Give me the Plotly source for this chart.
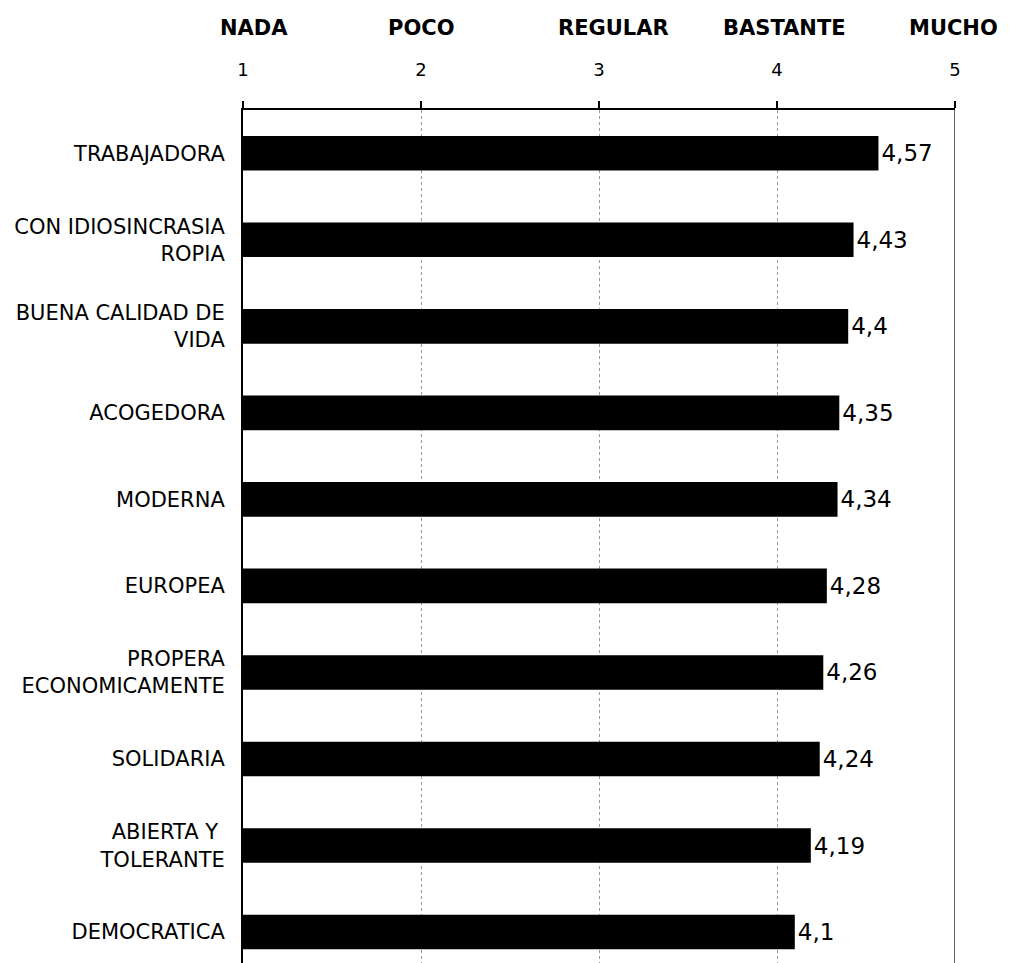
import plotly.graph_objects as go

# Valoración media de cada atributo (escala 1-5)
categories = [
    "TRABAJADORA",
    "CON IDIOSINCRASIA<br>ROPIA",
    "BUENA CALIDAD DE<br>VIDA",
    "ACOGEDORA",
    "MODERNA",
    "EUROPEA",
    "PROPERA<br>ECONOMICAMENTE",
    "SOLIDARIA",
    "ABIERTA Y <br>TOLERANTE",
    "DEMOCRATICA",
]
values = [4.57, 4.43, 4.4, 4.35, 4.34, 4.28, 4.26, 4.24, 4.19, 4.1]

scale_ticks = [1, 2, 3, 4, 5]
scale_words = ["NADA", "POCO", "REGULAR", "BASTANTE", "MUCHO"]
# header word centres, as fraction of the plot width
word_pos = [0.015, 0.25, 0.52, 0.76, 0.998]

FONT = "DejaVu Sans"

labels = [f"{v:g}".replace(".", ",") for v in values]

fig = go.Figure()
# bars start at 1 (left edge of the scale)
fig.add_trace(go.Bar(
    x=[v - 1 for v in values], y=categories, orientation="h",
    base=1, width=0.4,
    marker=dict(color="black", line=dict(width=0)),
    text=labels, textposition="outside",
    textfont=dict(family=FONT, size=23, color="black"),
    cliponaxis=False, showlegend=False,
))

annotations = [
    dict(x=p, y=1, xref="paper", yref="paper", xanchor="center",
         yanchor="middle", yshift=82,
         text=f"<b>{w}</b>", showarrow=False,
         font=dict(family=FONT, size=21, color="black"))
    for w, p in zip(scale_words, word_pos)
]

# right border of the plot
fig.add_shape(type="line", xref="x", yref="paper", x0=5, x1=5, y0=0, y1=1,
              line=dict(color="black", width=1.2))

# the page adds ~8px of body margin, so margins are shifted to compensate
fig.update_layout(
    width=1014, height=963,
    margin=dict(l=235, r=67, t=102, b=0),
    plot_bgcolor="white", paper_bgcolor="white",
    annotations=annotations,
    xaxis=dict(
        side="top", range=[1, 5], tickvals=scale_ticks,
        ticktext=[str(t) for t in scale_ticks],
        showline=True, linecolor="black", linewidth=2,
        ticks="outside", ticklen=7, tickcolor="black", tickwidth=2,
        ticklabelstandoff=18,
        tickfont=dict(family=FONT, size=18, color="black"),
        showgrid=True, gridcolor="#9a9a9a", griddash="dot", gridwidth=1,
        zeroline=False,
    ),
    yaxis=dict(
        categoryorder="array", categoryarray=categories,
        range=[9.45, -0.5],
        showline=True, linecolor="black", linewidth=2,
        ticks="", ticklabelstandoff=12,
        tickfont=dict(family=FONT, size=21, color="black"),
        showgrid=False,
    ),
)

fig.write_html("out.html")
